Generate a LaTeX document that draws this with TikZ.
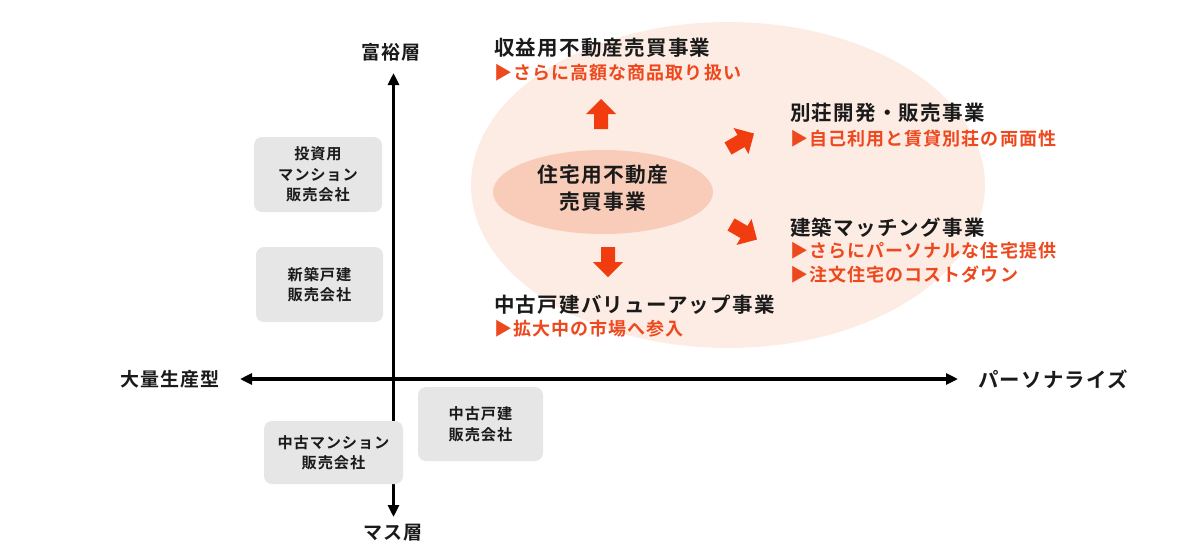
\documentclass[tikz,border=0pt]{standalone}
\usepackage{fontspec}
\usetikzlibrary{shapes.geometric,arrows.meta}
\newfontfamily\jpB{Noto Sans CJK JP Bold}[LetterSpace=6]
\definecolor{bigpeach}{RGB}{253,236,228}
\definecolor{innerpeach}{RGB}{248,204,184}
\definecolor{graybox}{RGB}{230,230,230}
\definecolor{accent}{RGB}{238,72,30}
\definecolor{arrowc}{RGB}{240,60,15}
\definecolor{ink}{RGB}{26,26,26}
\tikzset{
  titletext/.style={inner sep=0pt, anchor=west, text=ink, font=\jpB\fontsize{20.5}{24}\selectfont},
  subtext/.style={inner sep=0pt, anchor=west, text=accent, font=\jpB\fontsize{18}{24}\selectfont},
  boxtext/.style={fill=graybox, rounded corners=8pt, inner sep=0pt, align=center, text=ink, font=\jpB\fontsize{15.2}{20.5}\selectfont},
  axislabel/.style={inner sep=0pt, text=ink, font=\jpB\fontsize{19}{22}\selectfont},
  axisline/.style={line width=3.5pt, draw=black, -{Triangle[length=12pt,width=11pt]}},
  blockarrow/.pic={\fill[arrowc] (-15,-7) -- (0,-7) -- (0,-15) -- (15,0) -- (0,15) -- (0,7) -- (-15,7) -- cycle;}
}
\begin{document}
\begin{tikzpicture}[x=1pt,y=-1pt]
\useasboundingbox (0,0) rectangle (1200,558);
% ellipses
\node[ellipse, fill=bigpeach, minimum width=514, minimum height=326, inner sep=0pt] (outer) at (728,185) {};
\node[ellipse, fill=innerpeach, minimum width=220, minimum height=84, inner sep=0pt] (inner) at (603,192) {};
\node[inner sep=0pt, align=center, text=ink, font=\jpB\fontsize{20.7}{27}\selectfont] (core) at (603,188) {住宅用不動産\\売買事業};
% axes
\coordinate (ymid) at (393.5,379);
\coordinate (ytop) at (393.5,73);
\coordinate (ybot) at (393.5,517);
\coordinate (xleft) at (240,379);
\coordinate (xright) at (958,379);
\draw[axisline] (ymid) -- (ytop);
\draw[axisline] (ymid) -- (ybot);
\draw[axisline] (ymid) -- (xleft);
\draw[axisline] (ymid) -- (xright);
\node[axislabel] (lTop) at (391,52) {富裕層};
\node[axislabel] (lBot) at (393,533) {マス層};
\node[axislabel] (lLeft) at (170,379) {大量生産型};
\node[axislabel, anchor=west, font=\jpB\fontsize{20.4}{22}\selectfont] (lRight) at (978,379) {パーソナライズ};
% gray boxes
\node[boxtext, minimum width=128, minimum height=75] (b1) at (318,174.5) {投資用\\マンション\\販売会社};
\node[boxtext, minimum width=127, minimum height=75] (b2) at (319.5,284.5) {新築戸建\\販売会社};
\node[boxtext, minimum width=139, minimum height=63] (b3) at (333.5,452.5) {中古マンション\\販売会社};
\node[boxtext, minimum width=125, minimum height=74] (b4) at (480.5,424) {中古戸建\\販売会社};
% block arrows
\pic[rotate=90] (aUp) at (601,114) {blockarrow};
\pic[rotate=-90] (aDown) at (608,262) {blockarrow};
\pic[rotate=30] (aUR) at (741,141) {blockarrow};
\pic[rotate=-30] (aDR) at (744,232) {blockarrow};
% business texts
\node[titletext] (t1) at (494,48) {収益用不動産売買事業};
\node[subtext] (s1) at (494,73) {▶さらに高額な商品取り扱い};
\node[titletext] (t2) at (790,113) {別荘開発・販売事業};
\node[subtext] (s2) at (790,139) {▶自己利用と賃貸別荘の両面性};
\node[titletext] (t3) at (790,228) {建築マッチング事業};
\node[subtext] (s3a) at (790,251) {▶さらにパーソナルな住宅提供};
\node[subtext] (s3b) at (790,275) {▶注文住宅のコストダウン};
\node[titletext] (t4) at (494,305) {中古戸建バリューアップ事業};
\node[subtext] (s4) at (494,329) {▶拡大中の市場へ参入};
\end{tikzpicture}
\end{document}
